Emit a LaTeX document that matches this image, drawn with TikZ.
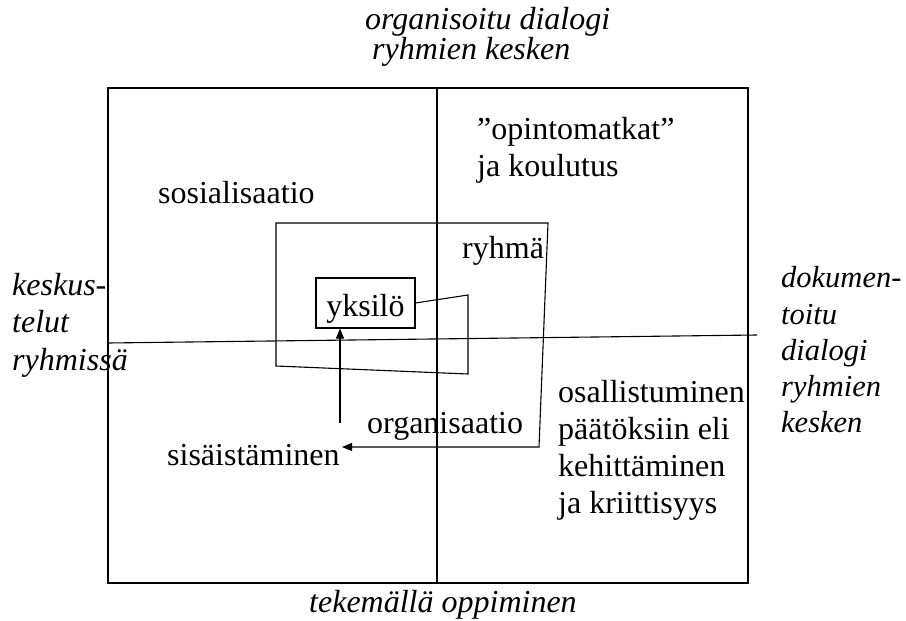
\documentclass[tikz,border=0pt]{standalone}
\usepackage{fontspec}
\setmainfont{Liberation Serif}
\usetikzlibrary{arrows.meta}
\begin{document}
\begin{tikzpicture}[x=1pt,y=-1pt,
  lbl/.style={anchor=base west,inner sep=0pt,font=\fontsize{32}{37}\selectfont},
  ilbl/.style={lbl,font=\fontsize{32}{37}\selectfont\itshape},
  rlbl/.style={lbl,font=\fontsize{30.5}{37}\selectfont\itshape},
  ln/.style={line width=1.1pt,black},
  arr/.style={ln,-{Triangle[length=10pt,width=8pt]}}]
\useasboundingbox (0,0) rectangle (906,621);
% frame and axes
\draw[ln] (108,88) rectangle (748,583);
\coordinate (vt) at (437,88);
\coordinate (vb) at (437,583);
\coordinate (hl) at (108,343);
\coordinate (hr) at (757,335);
\draw[ln] (vt) -- (vb);
\draw[ln] (hl) -- (hr);
% axis labels
\node[ilbl] (top1) at (365,29) {organisoitu dialogi};
\node[ilbl] (top2) at (372,59) {ryhmien kesken};
\node[ilbl] (bot) at (309,612) {tekemällä oppiminen};
\node[ilbl] (l1) at (12,295) {keskus-};
\node[ilbl] (l2) at (12,332) {telut};
\node[ilbl] (l3) at (12,370) {ryhmissä};
\node[rlbl] (r1) at (781,287) {dokumen-};
\node[rlbl] (r2) at (781,324) {toitu};
\node[rlbl] (r3) at (781,360) {dialogi};
\node[rlbl] (r4) at (781,396) {ryhmien};
\node[rlbl] (r5) at (781,432) {kesken};
% quadrant labels
\node[lbl] (op1) at (477,139) {”opintomatkat”};
\node[lbl] (op2) at (477,176) {ja koulutus};
\node[lbl] (sos) at (158,203) {sosialisaatio};
\node[lbl] (ryh) at (462,258) {ryhmä};
\node[lbl] (org) at (367,433) {organisaatio};
\node[lbl] (sis) at (167,465) {sisäistäminen};
\node[lbl] (os1) at (558,402) {osallistuminen};
\node[lbl] (os2) at (558,439) {päätöksiin eli};
\node[lbl] (os3) at (558,476) {kehittäminen};
\node[lbl] (os4) at (558,513) {ja kriittisyys};
% individual box
\node[ln,draw,anchor=base,inner ysep=0pt,text height=38pt,text depth=12pt,
  minimum width=99pt,font=\fontsize{32}{37}\selectfont] (yk) at (365.5,316) {yksilö};
% spiral
\coordinate (ctip) at (342,447);
\draw[arr] (yk.east) -- (468,295) -- (468,374) -- (276,366) -- (276,223)
  -- (548,223) -- (539,447) -- (ctip);
% internalisation arrow
\coordinate (vs) at (340,423);
\draw[arr] (vs) -- (yk.south -| vs);
\end{tikzpicture}
\end{document}
